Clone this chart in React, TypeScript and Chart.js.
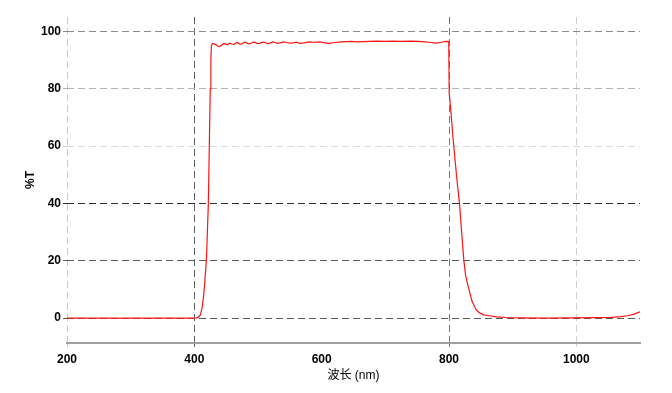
import React, { useEffect, useRef } from 'react';
import { Chart, registerables } from 'chart.js';
Chart.register(...registerables);

const wavelength = [
  200, 300, 400, 403, 406, 409.5, 412.5, 415, 417, 419, 420.5, 422, 423.5, 425, 426, 426.8,
  428.5, 431, 434, 437, 440, 443, 446, 449, 452, 455.5, 459, 462, 465, 468, 471, 474, 477, 480,
  484, 487, 491, 495, 499, 503, 507, 511, 515, 519, 523, 527, 531, 535, 540, 545, 550, 555, 560,
  566, 573, 580, 588, 597, 605, 612, 620, 630, 640, 647, 655, 665, 675, 688, 700, 712, 725, 740,
  752, 762, 772, 780, 788, 795, 799.6, 800.3, 803, 805.5, 807.5, 810, 813, 816.5, 819.5, 823.3,
  826, 829, 832, 836, 840, 843, 848, 855, 863, 875, 890, 910, 950, 990, 1030, 1055, 1070, 1080,
  1090, 1100,
];
const transmittance = [
  0, 0, 0, 0.05, 0.3, 1.1, 4, 8.7, 14.4, 20.5, 30, 40, 60, 80, 90, 95.2,
  95.7, 95.6, 95.3, 94.8, 94.7, 95.2, 95.7, 95.6, 95.3, 95.9, 95.6, 95.4, 95.9, 96.1, 95.6, 95.5, 96.0, 96.2,
  95.7, 95.6, 96.1, 96.2, 95.7, 95.8, 96.2, 96.1, 95.7, 95.9, 96.3, 96.1, 95.8, 96.0, 96.3, 96.1, 95.9, 96.0, 96.2,
  95.8, 96.0, 96.3, 96.2, 96.3, 96.0, 95.8, 96.1, 96.3, 96.4, 96.5, 96.3, 96.4, 96.5, 96.6, 96.5, 96.6, 96.5, 96.6,
  96.5, 96.3, 96.1, 95.9, 96.2, 96.5, 96.4, 78.5, 72, 65, 60, 54, 47, 40, 31, 20.2,
  15, 12, 9.5, 6, 4, 2.8, 1.8, 1.1, 0.8, 0.4, 0.2, 0.08, 0, 0.05, 0.15, 0.25, 0.5, 0.8,
  1.3, 2.2,
];
const xTicks = [200, 400, 600, 800, 1000];
const yTicks = [0, 20, 40, 60, 80, 100];
const xTitle = '波长 (nm)';
const yTitle = '%T';

const xGridColors: Record<number, string> = {
  200: '#cacaca', 400: '#5e5e5e', 600: 'rgba(0,0,0,0)', 800: '#777777', 1000: '#d0d0d0',
};
const yGridColors: Record<number, string> = {
  0: '#5a5a5a', 20: '#5a5a5a', 40: '#303030', 60: '#dadada', 80: '#b4b4b4', 100: '#8c8c8c',
};

export default function App() {
  const ref = useRef<HTMLCanvasElement>(null);
  useEffect(() => {
    if (!ref.current) return;
    const fam = '"Liberation Sans", Arial, "Noto Sans CJK SC", sans-serif';
    const chart = new Chart(ref.current, {
      type: 'line',
      data: {
        datasets: [
          {
            data: wavelength.map((x, i) => ({ x, y: transmittance[i] })),
            borderColor: '#ff1414',
            borderWidth: 1.2,
            pointRadius: 0,
            tension: 0,
            fill: false,
          },
        ],
      },
      options: {
        responsive: false,
        animation: false,
        devicePixelRatio: 1,
        layout: { padding: { top: 17, right: 32, bottom: 0, left: 0 } },
        plugins: { legend: { display: false }, tooltip: { enabled: false } },
        scales: {
          x: {
            type: 'linear',
            min: 200,
            max: 1100,
            afterBuildTicks: (s: any) => { s.ticks = xTicks.map((v) => ({ value: v })); },
            afterFit: (s: any) => { s.height = 50; },
            ticks: {
              color: '#000',
              font: { family: fam, size: 12, weight: 'bold' },
              padding: 5,
              maxRotation: 0,
              autoSkip: false,
              callback: (v: any) => String(v),
            },
            grid: {
              color: (c: any) => xGridColors[c.tick?.value] ?? 'rgba(0,0,0,0)',
              tickColor: (c: any) => xGridColors[c.tick?.value] ?? 'rgba(0,0,0,0)',
              tickBorderDash: [],
              tickLength: 4,
              lineWidth: 1,
            },
            border: { display: true, color: '#a0a0a0', width: 2, dash: [7, 4] },
            title: {
              display: true,
              text: xTitle,
              color: '#000',
              font: { family: fam, size: 12 },
              padding: { top: 0, bottom: 10 },
            },
          },
          y: {
            type: 'linear',
            min: -8.7,
            max: 105,
            afterBuildTicks: (s: any) => { s.ticks = yTicks.map((v) => ({ value: v })); },
            afterFit: (s: any) => { s.width = 67; },
            ticks: {
              color: '#000',
              font: { family: fam, size: 12, weight: 'bold' },
              padding: 2,
              callback: (v: any) => String(v),
            },
            grid: {
              color: (c: any) => yGridColors[c.tick?.value] ?? 'rgba(0,0,0,0)',
              tickColor: (c: any) => yGridColors[c.tick?.value] ?? 'rgba(0,0,0,0)',
              tickBorderDash: [],
              tickLength: 4,
              lineWidth: 1,
            },
            border: { display: false, dash: [7, 4] },
            title: {
              display: true,
              text: yTitle,
              color: '#000',
              font: { family: fam, size: 12, weight: 'bold' },
              padding: { top: 23, bottom: 0 },
            },
          },
        },
      },
    });
    return () => chart.destroy();
  }, []);
  return (
    <div style={{ position: 'absolute', left: 0, top: 0, width: 672, height: 393, background: '#fff' }}>
      <canvas ref={ref} width={672} height={393} style={{ width: 672, height: 393 }} />
    </div>
  );
}
